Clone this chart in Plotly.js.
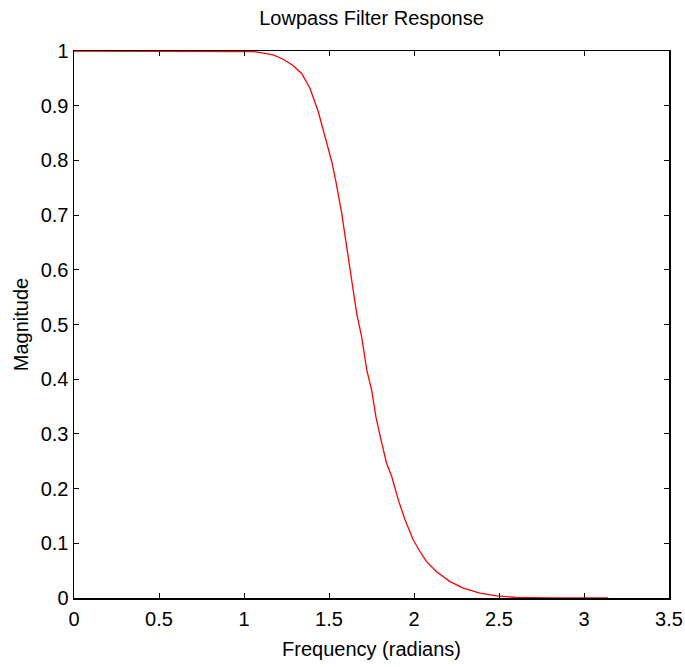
<!DOCTYPE html>
<html>
<head>
<meta charset="utf-8">
<script src="https://cdn.plot.ly/plotly-3.0.1.min.js"></script>
<style>html,body{margin:0;padding:0;background:#fff;}#chart{width:685px;height:667px;}</style>
</head>
<body>
<div id="chart"></div>
<script>
const frequency = [0, 0.5, 1.0, 1.055, 1.114, 1.172, 1.231, 1.29, 1.339, 1.388, 1.437, 1.486, 1.516, 1.539, 1.575, 1.604, 1.634, 1.663, 1.692, 1.722, 1.751, 1.776, 1.806, 1.839, 1.869, 1.908, 1.947, 1.996, 2.035, 2.075, 2.133, 2.212, 2.29, 2.388, 2.486, 2.6, 2.8, 3.0, 3.1416];
const magnitude = [1, 1, 1, 0.999, 0.996, 0.993, 0.985, 0.973, 0.959, 0.932, 0.889, 0.834, 0.798, 0.764, 0.703, 0.642, 0.581, 0.520, 0.478, 0.417, 0.380, 0.331, 0.289, 0.246, 0.222, 0.179, 0.143, 0.106, 0.085, 0.066, 0.048, 0.030, 0.018, 0.009, 0.004, 0.001, 0, 0, 0];
const xTicks = [0, 0.5, 1, 1.5, 2, 2.5, 3, 3.5];
const xTickLabels = ['0', '0.5', '1', '1.5', '2', '2.5', '3', '3.5'];
const yTicks = [0, 0.1, 0.2, 0.3, 0.4, 0.5, 0.6, 0.7, 0.8, 0.9, 1];
const yTickLabels = ['0', '0.1', '0.2', '0.3', '0.4', '0.5', '0.6', '0.7', '0.8', '0.9', '1'];

const font = {family: '"Liberation Sans", Arial, sans-serif', size: 20, color: '#000'};

const trace = {
  x: frequency, y: magnitude, type: 'scatter', mode: 'lines',
  line: {color: '#ff0000', width: 1.3}, hoverinfo: 'skip'
};

const axisCommon = {
  showgrid: false, zeroline: false, showline: true, linecolor: '#000', linewidth: 1.5,
  mirror: 'ticks', ticks: 'inside', ticklen: 5, tickwidth: 1, tickcolor: '#000',
  tickfont: font, tickmode: 'array', automargin: false, fixedrange: true
};

const layout = {
  width: 685, height: 667,
  margin: {l: 74, r: 16, t: 51, b: 69},
  paper_bgcolor: '#fff', plot_bgcolor: '#fff',
  font: font,
  showlegend: false,
  title: {text: 'Lowpass Filter Response', font: font, x: 0.5, xanchor: 'center', y: 1 - 18/667, yanchor: 'middle', xref: 'paper', yref: 'container'},
  xaxis: Object.assign({}, axisCommon, {
    range: [0, 3.5], tickvals: xTicks, ticktext: xTickLabels,
    ticklabelstandoff: 2,
    title: {text: 'Frequency (radians)', font: font, standoff: 13}
  }),
  yaxis: Object.assign({}, axisCommon, {
    range: [0, 1], tickvals: yTicks, ticktext: yTickLabels,
    ticklabelstandoff: 0,
    title: {text: 'Magnitude', font: font, standoff: 6}
  })
};

Plotly.newPlot('chart', [trace], layout, {displayModeBar: false, staticPlot: true});
</script>
</body>
</html>
